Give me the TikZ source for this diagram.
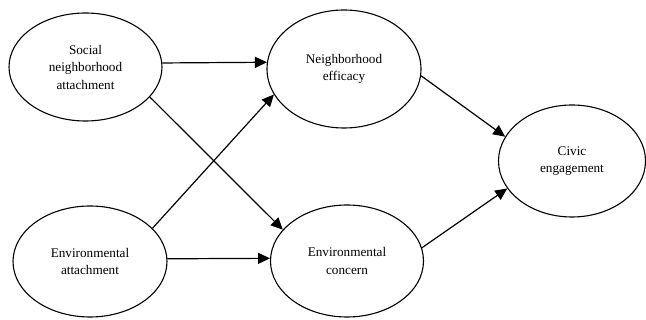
\documentclass[tikz,border=0pt]{standalone}
\usepackage{fontspec}
\setmainfont{Liberation Serif}
\usetikzlibrary{arrows.meta,shapes.geometric}
\begin{document}
\begin{tikzpicture}[x=1pt,y=-1pt,
  latent/.style={draw,ellipse,line width=1.1pt,inner sep=0pt,align=center,
    font=\fontsize{13.2pt}{17.5pt}\selectfont},
  arr/.style={line width=1.2pt,-{Triangle[length=12pt,width=11pt]}}]
\useasboundingbox[fill=white] (0,0) rectangle (646,320);
\node[latent,minimum width=153pt,minimum height=108pt] (soc) at (85.5,67) {Social\\neighborhood\\attachment};
\node[latent,minimum width=154pt,minimum height=118pt] (ne) at (344,69) {Neighborhood\\efficacy};
\node[latent,minimum width=147pt,minimum height=112pt] (civ) at (572,161) {Civic\\engagement};
\node[latent,minimum width=154pt,minimum height=111pt] (ea) at (90,261.5) {Environmental\\attachment};
\node[latent,minimum width=153pt,minimum height=112pt] (ec) at (347,261) {Environmental\\concern};
\draw[arr] (soc.3) -- (ne.175.5);
\draw[arr] (ea.2) -- (ec.178);
\draw[arr] (soc.-25) -- (ec.154);
\draw[arr] (ea.28) -- (ne.-160);
\draw[arr] (ne.-5) -- (civ.160);
\draw[arr] (ec.10.4) -- (civ.-157);
\end{tikzpicture}
\end{document}
